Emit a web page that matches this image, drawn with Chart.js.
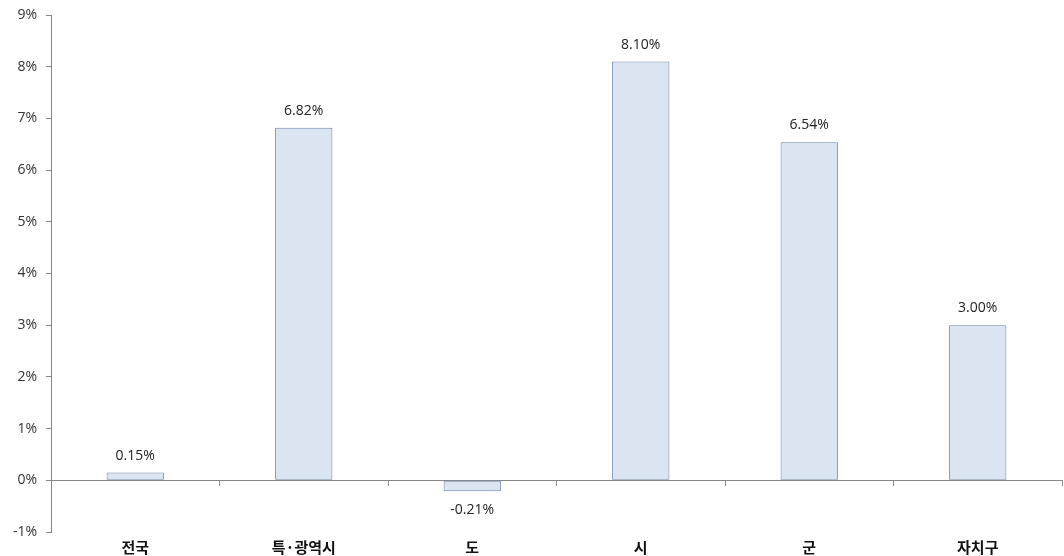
<!DOCTYPE html>
<html><head><meta charset="utf-8">
<script src="https://cdn.jsdelivr.net/npm/chart.js@4.4.1/dist/chart.umd.min.js"></script>
<style>html,body{margin:0;padding:0;background:#fff;}#wrap{width:1064px;height:556px;}</style>
</head><body><div id="wrap"><canvas id="c"></canvas></div>
<script>
const categories = ['전국', '특·광역시', '도', '시', '군', '자치구'];
const values = [0.15, 6.82, -0.21, 8.10, 6.54, 3.00];
const yTicks = [-1, 0, 1, 2, 3, 4, 5, 6, 7, 8, 9];

const FONT = "'Noto Sans CJK KR', 'Noto Sans', sans-serif";
const NUMFONT = "'Open Sans', 'Noto Sans', sans-serif";

const labelPlugin = {
  id: 'barLabels',
  afterDatasetsDraw(chart) {
    const ctx = chart.ctx;
    const meta = chart.getDatasetMeta(0);
    ctx.save();
    ctx.font = '14px ' + NUMFONT;
    ctx.fillStyle = '#222';
    ctx.textAlign = 'center';
    ctx.textBaseline = 'middle';
    meta.data.forEach((bar, i) => {
      const v = values[i];
      const txt = v.toFixed(2) + '%';
      if (v >= 0) {
        ctx.fillText(txt, bar.x, bar.y - 17);
      } else {
        ctx.fillText(txt, bar.x, bar.y + 19);
      }
    });
    ctx.restore();
  }
};

new Chart(document.getElementById('c'), {
  type: 'bar',
  data: {
    labels: categories,
    datasets: [{
      data: values,
      backgroundColor: '#dbe4f1',
      borderColor: '#6d86a8',
      borderWidth: 1,
      borderSkipped: false,
      categoryPercentage: 1,
      barPercentage: 0.34
    }]
  },
  options: {
    responsive: true,
    maintainAspectRatio: false,
    animation: false,
    layout: { padding: { left: 0, top: 15, right: 2, bottom: 0 } },
    plugins: { legend: { display: false }, tooltip: { enabled: false } },
    scales: {
      x: {
        position: 'bottom',
        grid: { display: false },
        border: { display: false },
        ticks: { color: '#111', font: { family: FONT, size: 15, weight: 'bold' }, padding: -2 },
        afterFit(scale) { scale.height = 24; }
      },
      x2: {
        type: 'category',
        labels: categories,
        position: { y: 0 },
        offset: true,
        grid: { offset: true, drawOnChartArea: false, drawTicks: true, tickLength: 5, color: '#888' },
        border: { display: true, color: '#888', width: 1 },
        ticks: { display: false }
      },
      y: {
        min: -1,
        max: 9,
        afterBuildTicks(scale) { scale.ticks = yTicks.map(v => ({ value: v })); },
        afterFit(scale) { scale.width = 51; scale.paddingTop = 0; scale.paddingBottom = 0; },
        grid: { drawOnChartArea: false, drawTicks: true, tickLength: 5, color: '#888' },
        border: { display: true, color: '#888', width: 1 },
        ticks: {
          color: '#333',
          padding: 9,
          font: { family: NUMFONT, size: 14, lineHeight: 1 },
          callback: (v) => v + '%'
        }
      }
    }
  },
  plugins: [labelPlugin]
});
</script>
</body></html>
